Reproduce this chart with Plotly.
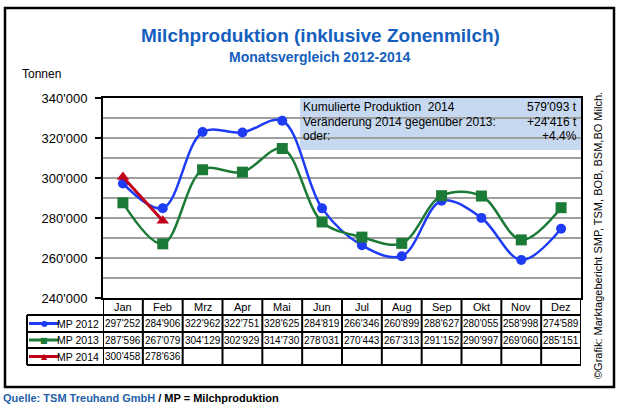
import plotly.graph_objects as go

months = ["Jan", "Feb", "Mrz", "Apr", "Mai", "Jun", "Jul", "Aug", "Sep", "Okt", "Nov", "Dez"]
mp_2012 = [297252, 284906, 322962, 322751, 328625, 284819, 266346, 260899, 288627, 280055, 258998, 274589]
mp_2013 = [287596, 267079, 304129, 302929, 314730, 278031, 270443, 267313, 291152, 290997, 269060, 285151]
mp_2014 = [300458, 278636]
series_names = ["MP 2012", "MP 2013", "MP 2014"]
series_colors = ["#1f3cf5", "#1b7a35", "#c0001a"]
series_symbols = ["circle", "square", "triangle-up"]
series_glyphs = ["\u25cf", "\u25a0", "\u25b2"]

info_labels = ["Kumulierte Produktion  2014", "Veränderung 2014 gegenüber 2013:", "oder:"]
info_values = ["579'093 t", "+24'416 t", "+4.4%"]

FONT = "Liberation Sans"
W, H = 620, 420
L, R, T, B = 103, 581, 98, 298


def px(x):
    return (x - L) / (R - L)


def py(y):
    return (B - y) / (B - T)


def fmt(v):
    return f"{v:,}".replace(",", "'")


all_series = [mp_2012, mp_2013, mp_2014]
fig = go.Figure()
for name, vals, col, sym in zip(series_names, all_series, series_colors, series_symbols):
    fig.add_trace(go.Scatter(
        x=list(range(len(vals))), y=vals, name=name, mode="lines+markers",
        line=dict(color=col, width=3 if sym == "triangle-up" else 2.5, shape="spline", smoothing=1),
        marker=dict(symbol=sym, size=11 if sym != "circle" else 10, color=col),
        showlegend=False, cliponaxis=False,
    ))

shapes = []
annotations = []

# outer frame
shapes.append(dict(type="rect", xref="paper", yref="paper", x0=px(5), x1=px(614), y0=py(8), y1=py(387),
                   line=dict(color="black", width=2.5), layer="below"))

# info box
shapes.append(dict(type="rect", xref="paper", yref="paper", x0=px(300), x1=1, y0=py(150), y1=1,
                   fillcolor="#c6d9f1", line=dict(width=0), layer="between"))
for i, (lab, val) in enumerate(zip(info_labels, info_values)):
    yy = py(107 + i * 14.5)
    annotations.append(dict(text=lab, xref="paper", yref="paper", x=px(301), y=yy, xanchor="left",
                            yanchor="middle", showarrow=False, font=dict(family=FONT, size=12, color="black")))
    annotations.append(dict(text=val, xref="paper", yref="paper", x=px(579), y=yy, xanchor="right",
                            yanchor="middle", showarrow=False, font=dict(family=FONT, size=12, color="black")))

# data table
row_lines = [315, 332, 348, 365]
for yl in row_lines:
    shapes.append(dict(type="line", xref="paper", yref="paper", x0=px(27), x1=1, y0=py(yl), y1=py(yl),
                       line=dict(color="black", width=2)))
for k in range(len(months) + 1):
    shapes.append(dict(type="line", xref="x", yref="paper", x0=k - 0.5, x1=k - 0.5, y0=0, y1=py(365),
                       line=dict(color="black", width=2)))
shapes.append(dict(type="line", xref="paper", yref="paper", x0=px(27), x1=px(27), y0=py(315), y1=py(365),
                   line=dict(color="black", width=2)))

for r, (name, vals, col, glyph) in enumerate(zip(series_names, all_series, series_colors, series_glyphs)):
    yc = py((row_lines[r] + row_lines[r + 1]) / 2)
    shapes.append(dict(type="line", xref="paper", yref="paper", x0=px(29), x1=px(59), y0=yc, y1=yc,
                       line=dict(color=col, width=3)))
    annotations.append(dict(text=glyph, xref="paper", yref="paper", x=px(44), y=yc, xanchor="center",
                            yanchor="middle", showarrow=False, font=dict(family="DejaVu Sans", size=8, color=col)))
    annotations.append(dict(text=name, xref="paper", yref="paper", x=px(101), y=yc, xanchor="right",
                            yanchor="middle", showarrow=False, font=dict(family=FONT, size=10.5, color="black")))
    for i, v in enumerate(vals):
        annotations.append(dict(text=fmt(v), xref="x", yref="paper", x=i, y=yc, xanchor="center",
                                yanchor="middle", showarrow=False,
                                font=dict(family=FONT, size=10, color="black")))

for i, m in enumerate(months):
    annotations.append(dict(text=m, xref="x", yref="paper", x=i, y=py(306.5), xanchor="center",
                            yanchor="middle", showarrow=False, font=dict(family=FONT, size=11, color="black")))

# titles and texts
annotations += [
    dict(text="<b>Milchproduktion (inklusive Zonenmilch)</b>", xref="paper", yref="paper", x=px(320), y=py(35),
         xanchor="center", yanchor="middle", showarrow=False, font=dict(family=FONT, size=19, color="#1560bd")),
    dict(text="<b>Monatsvergleich 2012-2014</b>", xref="paper", yref="paper", x=px(320), y=py(57),
         xanchor="center", yanchor="middle", showarrow=False, font=dict(family=FONT, size=14, color="#1560bd")),
    dict(text="Tonnen", xref="paper", yref="paper", x=px(20), y=py(74), xanchor="left", yanchor="middle",
         showarrow=False, font=dict(family=FONT, size=12, color="black")),
    dict(text="<span style='color:#1f5fa8'>Quelle: TSM Treuhand GmbH</span> / MP = Milchproduktion",
         xref="paper", yref="paper", x=px(1), y=py(398), xanchor="left", yanchor="middle", showarrow=False,
         font=dict(family=FONT, size=11, color="black", weight="bold")),
    dict(text="\u00a9Grafik: Marktagebericht SMP, TSM, BOB, BSM,BO Milch.", xref="paper", yref="paper",
         x=px(598), y=py(236), xanchor="center", yanchor="middle", textangle=-90, showarrow=False,
         font=dict(family=FONT, size=11, color="black")),
]

fig.update_layout(
    width=W, height=H,
    margin=dict(l=L, r=W - R, t=T, b=H - B),
    paper_bgcolor="white", plot_bgcolor="white",
    separators=".'",
    shapes=shapes, annotations=annotations,
    font=dict(family=FONT, size=12, color="black"),
    xaxis=dict(range=[-0.5, 11.5], showticklabels=False, showgrid=False, zeroline=False,
               showline=True, mirror=True, linecolor="black", linewidth=2, ticks="", fixedrange=True),
    yaxis=dict(range=[240000, 340000], dtick=20000, tickformat=",d", showgrid=True,
               gridcolor="#a0a0a0", gridwidth=1.5, zeroline=False,
               minor=dict(dtick=10000, showgrid=True, gridcolor="#a0a0a0", gridwidth=1.5),
               showline=True, mirror=True, linecolor="black", linewidth=2,
               ticks="outside", ticklen=6, tickwidth=1.5, tickcolor="black", ticklabelstandoff=5,
               tickfont=dict(family=FONT, size=13, color="black"), fixedrange=True),
)

# the page body has a default 8px margin; drop it so the figure sits at the window corner
fig.write_html("out.html", config={"displayModeBar": False},
               post_script="document.body.style.margin='0px';")
